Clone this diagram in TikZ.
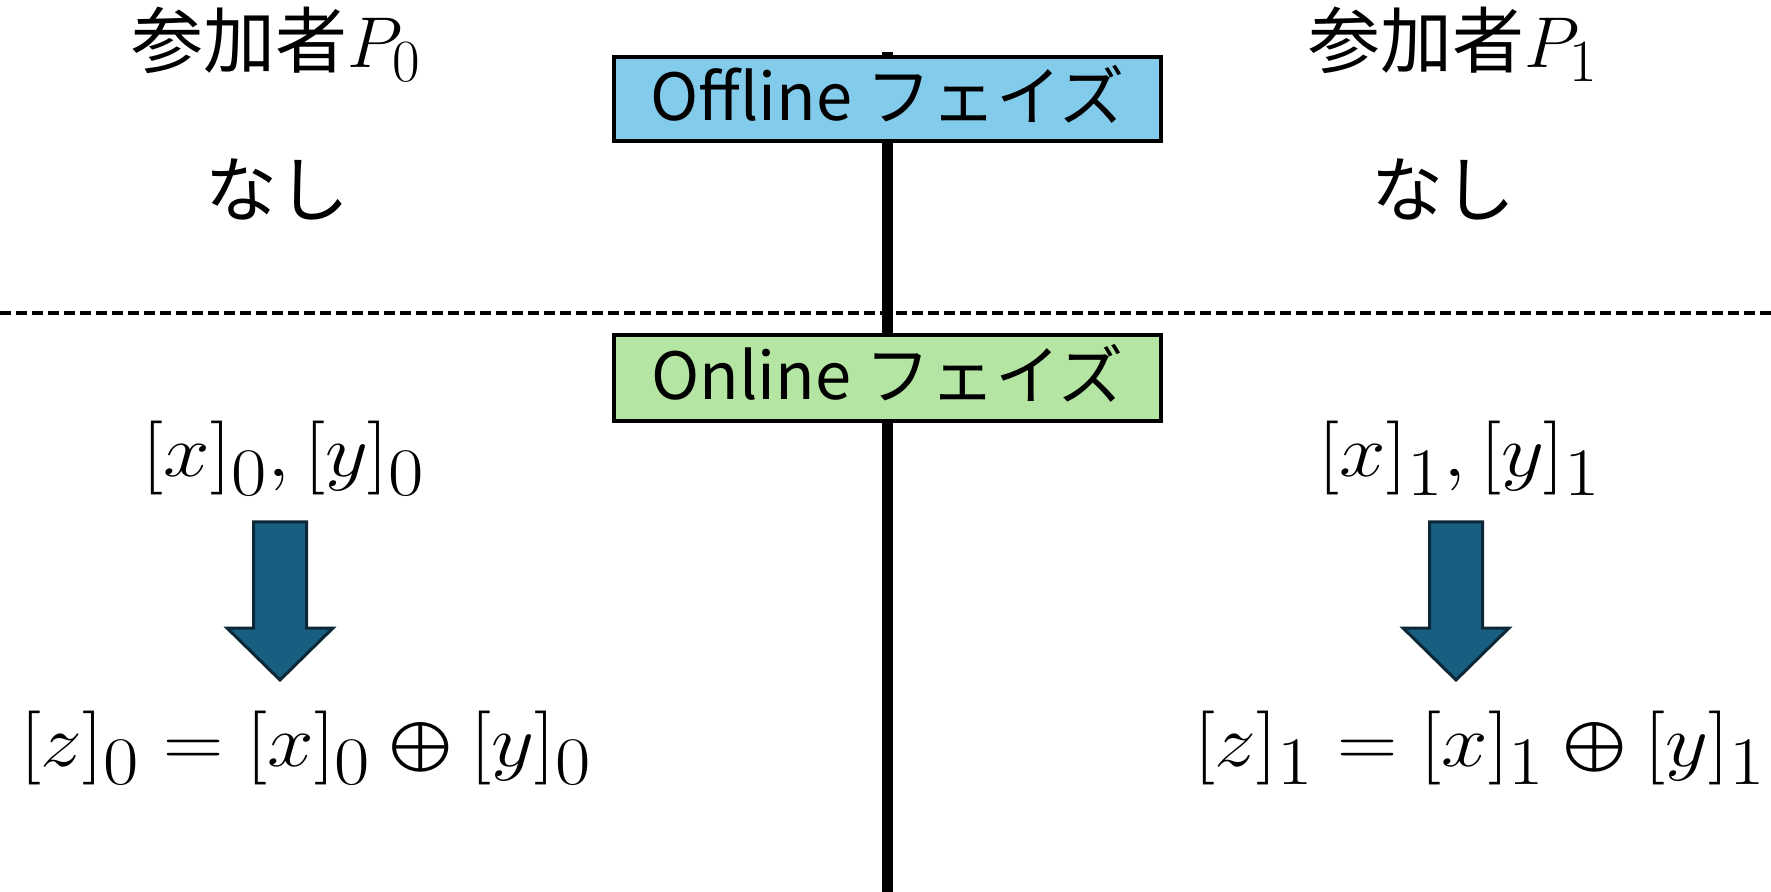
\RequirePackage{fix-cm}
\documentclass[tikz,border=0pt]{standalone}
\usepackage[no-math]{fontspec}
\newfontfamily\jp{Noto Sans CJK JP}
\usepackage{amsmath}
\usepackage{graphicx}
% large subscripts for the share formulas
\DeclareMathSizes{37}{37}{34}{26}
\DeclareMathSizes{36}{36}{30}{24}

\definecolor{offfill}{RGB}{131,203,235}
\definecolor{onfill}{RGB}{180,229,162}
\definecolor{arrowfill}{RGB}{24,94,128}
\definecolor{arrowedge}{RGB}{12,40,56}

% a large circled plus, as tall as the brackets
\newcommand{\xorop}{\mathbin{\bigoplus}}
% share formulas are set slightly wide
\newcommand{\wide}[1]{\scalebox{1.13}[1]{#1}}

\tikzset{
  phasebox/.style={draw=black, line width=2pt, minimum width=273.5pt,
    minimum height=42pt, inner sep=0pt, text height=28pt, text depth=6.5pt,
    font=\jp\fontsize{32.5}{38}\selectfont},
  party/.style={anchor=base, inner sep=0pt, font=\jp\fontsize{36}{42}\selectfont},
  share/.style={anchor=base, inner sep=0pt, font=\fontsize{37}{44}\selectfont},
  fatarrow/.style={fill=arrowfill, draw=arrowedge, line width=1.5pt, line join=miter},
  timeline/.style={line width=5.5pt},
  divider/.style={line width=1.75pt, dash pattern=on 5.5pt off 2.5pt},
  fat arrow/.pic={
    \filldraw[fatarrow] (-26.5,0) -- (26.5,0) -- (26.5,106) -- (53,106)
      -- (0,158) -- (-53,106) -- (-26.5,106) -- cycle;
  },
}

\begin{document}
\begin{tikzpicture}[x=0.5pt, y=-0.5pt]
  \useasboundingbox (0,0) rectangle (1771,892);

  % phase divider
  \coordinate (divl) at (0,313);
  \coordinate (divr) at (1771,313);
  \draw[divider] (divl) -- (divr);

  % central time line
  \coordinate (tltop) at (887.5,52);
  \coordinate (tlbot) at (887.5,892);
  \draw[timeline] (tltop) -- (tlbot);

  % phase labels
  \node[phasebox, fill=offfill] (offline) at (887.5,99) {Offline フェイズ};
  \node[phasebox, fill=onfill, minimum height=43pt] (online) at (887.5,378) {Online フェイズ};

  % participants
  \node[party] (p0) at (276,68) {参加者$P_0$};
  \node[party] (none0) at (277,217) {なし};
  \node[party] (p1) at (1453,68) {参加者$P_1$};
  \node[party] (none1) at (1443,217) {なし};

  % shares and local XOR
  \node[share] (in0) at (284,477) {\wide{$[x]_0,[y]_0$}};
  \node[share] (out0) at (306,766) {\wide{$[z]_0=[x]_0\xorop[y]_0$}};
  \node[share] (in1) at (1460,477) {\wide{$[x]_1,[y]_1$}};
  \node[share] (out1) at (1480,766) {\wide{$[z]_1=[x]_1\xorop[y]_1$}};

  \pic (arr0) at (280,522) {fat arrow};
  \pic (arr1) at (1456,522) {fat arrow};
\end{tikzpicture}
\end{document}
